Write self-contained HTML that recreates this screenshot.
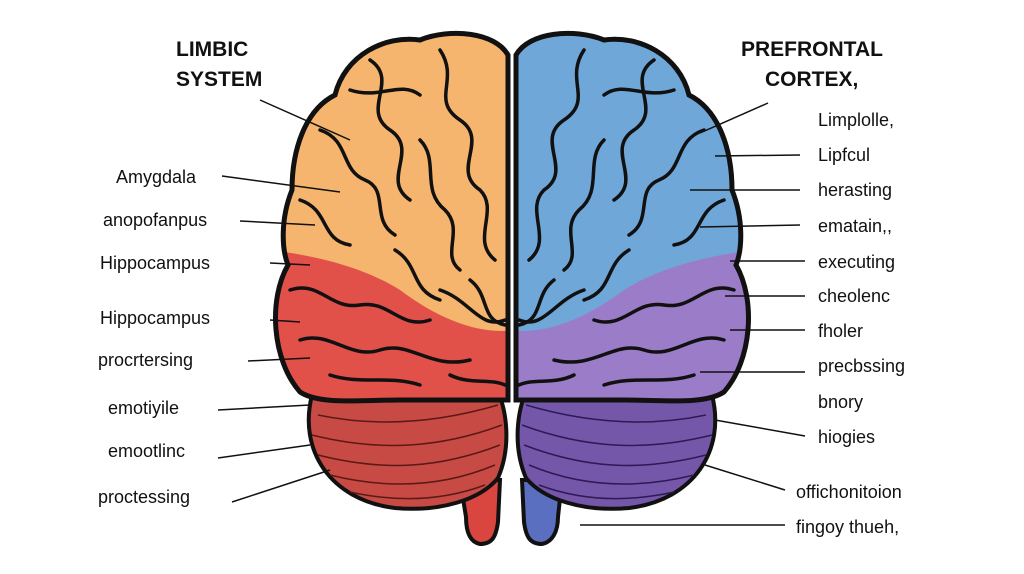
<!DOCTYPE html>
<html><head><meta charset="utf-8"><style>
html,body{margin:0;padding:0;background:#fff;width:1024px;height:574px;overflow:hidden}
svg{display:block}
text{font-family:"Liberation Sans",sans-serif;fill:#111}
.l{font-size:18px}
.b{font-size:21px;font-weight:bold}
</style></head><body>
<svg width="1024" height="574" viewBox="0 0 1024 574" xmlns="http://www.w3.org/2000/svg">
<defs>
<clipPath id="lh"><path d="M508,55 C495,32 450,28 420,40 C385,35 345,55 335,95 C305,110 292,150 292,190 C280,220 282,250 288,265 C268,300 272,360 300,392 C320,405 360,400 400,400 L508,400 Z"/></clipPath>
<clipPath id="rh"><path d="M516,55 C529,32 574,28 604,40 C639,35 679,55 689,95 C719,110 732,150 732,190 C744,220 742,250 736,265 C756,300 752,360 724,392 C704,405 664,400 624,400 L516,400 Z"/></clipPath>
</defs>
<!-- stems -->
<path d="M460,480 L500,480 L498,522 C496,537 492,544 480,544 C470,542 466,532 466,517 Z" fill="#d9463f" stroke="#111" stroke-width="4"/>
<path d="M522,480 L562,480 L558,517 C558,532 552,542 542,544 C530,544 526,537 524,522 Z" fill="#5a6fc0" stroke="#111" stroke-width="4"/>
<!-- cerebellum -->
<path d="M312,395 C298,450 330,500 395,508 C440,512 480,500 498,478 C512,445 506,410 498,392 Z" fill="#c84a44" stroke="#111" stroke-width="4"/>
<path d="M712,395 C726,450 694,500 629,508 C584,512 544,500 526,478 C512,445 518,410 526,392 Z" fill="#7557aa" stroke="#111" stroke-width="4"/>
<g stroke="#5a1a18" stroke-width="1.5" fill="none">
<path d="M318,415 C380,428 440,422 498,405"/><path d="M312,435 C380,452 440,448 502,425"/><path d="M318,455 C385,472 440,468 500,445"/><path d="M330,475 C390,490 445,486 495,465"/><path d="M350,492 C400,503 445,500 485,485"/>
</g>
<g stroke="#2e1a55" stroke-width="1.5" fill="none">
<path d="M706,415 C644,428 584,422 526,405"/><path d="M712,435 C644,452 584,448 522,425"/><path d="M706,455 C639,472 584,468 524,445"/><path d="M694,475 C634,490 579,486 529,465"/><path d="M674,492 C624,503 579,500 539,485"/>
</g>
<!-- left hemisphere -->
<g clip-path="url(#lh)">
<rect x="270" y="20" width="245" height="400" fill="#e2504a"/>
<path d="M270,20 L515,20 L515,330 C480,335 440,320 400,290 C360,265 310,255 270,250 Z" fill="#f5b56e"/>
<g stroke="#111" stroke-width="3.5" fill="none" stroke-linecap="round">
<path d="M370,60 C400,80 360,110 390,130 C420,150 380,180 410,200"/>
<path d="M440,50 C460,80 430,100 460,120 C490,140 450,170 480,190 C500,210 470,240 495,260"/>
<path d="M320,130 C350,140 340,170 365,180 C390,190 370,220 395,235"/>
<path d="M300,200 C330,210 320,240 350,245"/>
<path d="M420,140 C440,160 420,190 445,210 C465,230 440,255 460,270"/>
<path d="M350,90 C380,100 400,80 420,95"/>
<path d="M395,250 C420,265 410,290 440,300"/>
<path d="M470,280 C490,295 480,320 505,325"/>
<path d="M290,290 C320,280 330,310 360,305 C390,300 400,330 430,320"/>
<path d="M300,340 C330,330 350,360 380,350 C410,340 430,370 470,360"/>
<path d="M440,290 C470,300 480,330 505,320"/>
<path d="M330,375 C360,385 390,375 420,385"/>
<path d="M450,375 C470,385 490,378 505,385"/>
</g>
</g>
<path d="M508,55 C495,32 450,28 420,40 C385,35 345,55 335,95 C305,110 292,150 292,190 C280,220 282,250 288,265 C268,300 272,360 300,392 C320,405 360,400 400,400 L508,400 Z" fill="none" stroke="#111" stroke-width="5"/>
<!-- right hemisphere -->
<g clip-path="url(#rh)">
<rect x="509" y="20" width="250" height="400" fill="#9b7cc8"/>
<path d="M754,20 L509,20 L509,330 C544,335 584,320 624,290 C664,265 714,255 754,250 Z" fill="#70a7d9"/>
<g stroke="#111" stroke-width="3.5" fill="none" stroke-linecap="round">
<path d="M654,60 C624,80 664,110 634,130 C604,150 644,180 614,200"/>
<path d="M584,50 C564,80 594,100 564,120 C534,140 574,170 544,190 C524,210 554,240 529,260"/>
<path d="M704,130 C674,140 684,170 659,180 C634,190 654,220 629,235"/>
<path d="M724,200 C694,210 704,240 674,245"/>
<path d="M604,140 C584,160 604,190 579,210 C559,230 584,255 564,270"/>
<path d="M674,90 C644,100 624,80 604,95"/>
<path d="M629,250 C604,265 614,290 584,300"/>
<path d="M554,280 C534,295 544,320 519,325"/>
<path d="M734,290 C704,280 694,310 664,305 C634,300 624,330 594,320"/>
<path d="M724,340 C694,330 674,360 644,350 C614,340 594,370 554,360"/>
<path d="M584,290 C554,300 544,330 519,320"/>
<path d="M694,375 C664,385 634,375 604,385"/>
<path d="M574,375 C554,385 534,378 519,385"/>
</g>
</g>
<path d="M516,55 C529,32 574,28 604,40 C639,35 679,55 689,95 C719,110 732,150 732,190 C744,220 742,250 736,265 C756,300 752,360 724,392 C704,405 664,400 624,400 L516,400 Z" fill="none" stroke="#111" stroke-width="5"/>
<!-- labels left -->
<text class="b" x="176" y="56">LIMBIC</text>
<text class="b" x="176" y="86">SYSTEM</text>
<text class="l" x="116" y="183">Amygdala</text>
<text class="l" x="103" y="226">anopofanpus</text>
<text class="l" x="100" y="269">Hippocampus</text>
<text class="l" x="100" y="324">Hippocampus</text>
<text class="l" x="98" y="366">procrtersing</text>
<text class="l" x="108" y="414">emotiyile</text>
<text class="l" x="108" y="457">emootlinc</text>
<text class="l" x="98" y="503">proctessing</text>
<g stroke="#111" stroke-width="1.5">
<line x1="260" y1="100" x2="350" y2="140"/>
<line x1="222" y1="176" x2="340" y2="192"/>
<line x1="240" y1="221" x2="315" y2="225"/>
<line x1="270" y1="263" x2="310" y2="265"/>
<line x1="270" y1="320" x2="300" y2="322"/>
<line x1="248" y1="361" x2="310" y2="358"/>
<line x1="218" y1="410" x2="310" y2="405"/>
<line x1="218" y1="458" x2="310" y2="445"/>
<line x1="232" y1="502" x2="330" y2="470"/>
<line x1="700" y1="133" x2="768" y2="103"/>
<line x1="715" y1="156" x2="800" y2="155"/>
<line x1="690" y1="190" x2="800" y2="190"/>
<line x1="700" y1="227" x2="800" y2="225"/>
<line x1="730" y1="261" x2="805" y2="261"/>
<line x1="725" y1="296" x2="805" y2="296"/>
<line x1="730" y1="330" x2="805" y2="330"/>
<line x1="700" y1="372" x2="805" y2="372"/>
<line x1="715" y1="420" x2="805" y2="436"/>
<line x1="705" y1="465" x2="785" y2="490"/>
<line x1="580" y1="525" x2="785" y2="525"/>
</g>
<!-- labels right -->
<text class="b" x="741" y="56">PREFRONTAL</text>
<text class="b" x="765" y="86">CORTEX,</text>
<text class="l" x="818" y="126">Limplolle,</text>
<text class="l" x="818" y="161">Lipfcul</text>
<text class="l" x="818" y="196">herasting</text>
<text class="l" x="818" y="232">ematain,,</text>
<text class="l" x="818" y="268">executing</text>
<text class="l" x="818" y="302">cheolenc</text>
<text class="l" x="818" y="337">fholer</text>
<text class="l" x="818" y="372">precbssing</text>
<text class="l" x="818" y="408">bnory</text>
<text class="l" x="818" y="443">hiogies</text>
<text class="l" x="796" y="498">offichonitoion</text>
<text class="l" x="796" y="533">fingoy thueh,</text>
</svg>
</body></html>
